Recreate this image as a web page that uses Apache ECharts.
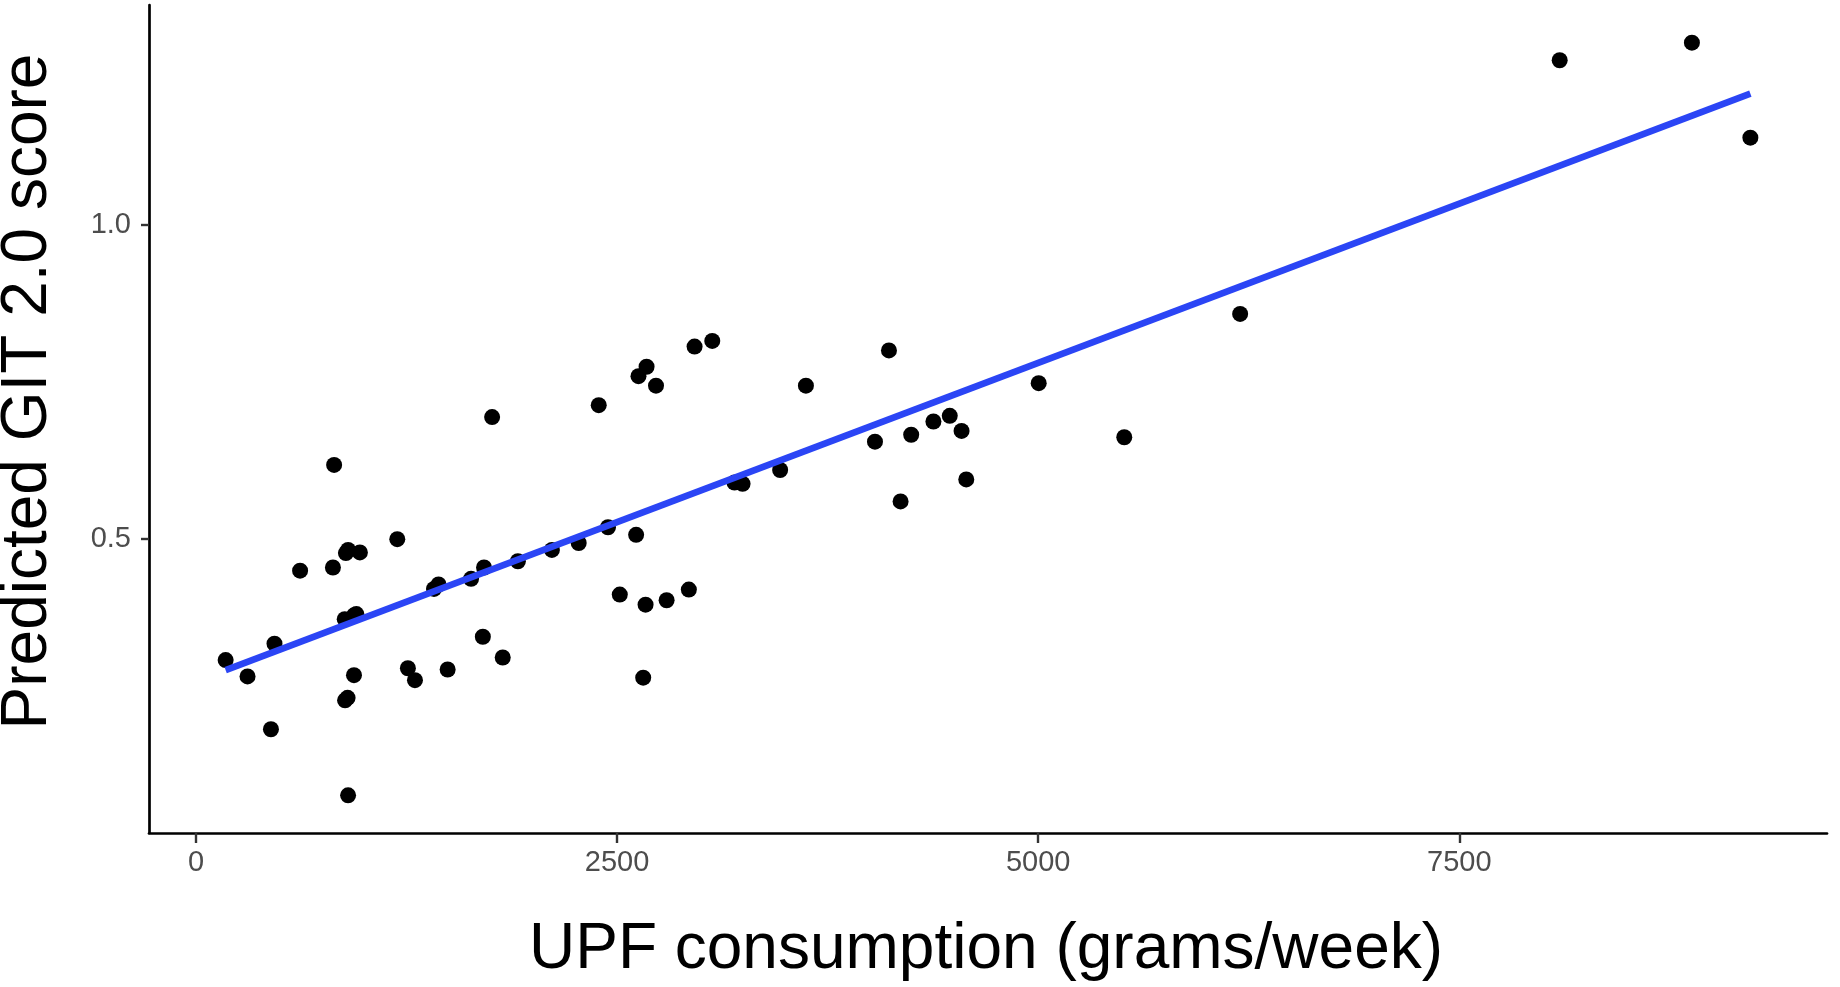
<!DOCTYPE html>
<html>
<head>
<meta charset="utf-8">
<style>
  html, body { margin: 0; padding: 0; background: #ffffff; }
  #chart { width: 1840px; height: 987px; }
</style>
<script src="https://cdn.jsdelivr.net/npm/echarts@6/dist/echarts.min.js"></script>
</head>
<body>
<div id="chart"></div>
<script>
// UPF consumption (grams/week)
const upfGrams = [
  176, 306, 466, 445, 618, 820, 813, 890, 903, 973,
  883, 938, 952, 938, 885, 900, 903, 1195, 1258, 1300,
  1494, 1413, 1440, 1633, 1703, 1710, 1758, 1821, 1911, 2113,
  2272, 2391, 2446, 2516, 2613, 2627, 2675, 2731, 2669, 2655,
  2794, 2926, 2960, 3065, 3197, 3245, 3468, 3621, 4031, 4114,
  4183, 4246, 4378, 4475, 4545, 4573, 5003, 5511, 6199, 8096,
  8881, 9228
];
// Predicted GIT 2.0 score
const gitScore = [
  0.308, 0.282, 0.334, 0.198, 0.450, 0.618, 0.455, 0.478, 0.483, 0.479,
  0.373, 0.379, 0.381, 0.284, 0.244, 0.248, 0.093, 0.500, 0.295, 0.276,
  0.293, 0.421, 0.428, 0.437, 0.345, 0.455, 0.694, 0.312, 0.465, 0.483,
  0.494, 0.713, 0.519, 0.412, 0.507, 0.759, 0.774, 0.744, 0.396, 0.280,
  0.403, 0.420, 0.806, 0.815, 0.590, 0.588, 0.610, 0.744, 0.655, 0.800,
  0.560, 0.666, 0.687, 0.696, 0.672, 0.595, 0.748, 0.662, 0.858, 1.261,
  1.289, 1.138
];
// Fitted linear trend endpoints
const fitX = [176, 9228];
const fitY = [0.292, 1.208];
// Tick labels
const xTicks = [0, 2500, 5000, 7500];
const yTicks = [0.5, 1.0];
const xTitle = 'UPF consumption (grams/week)';
const yTitle = 'Predicted GIT 2.0 score';

const points = upfGrams.map((x, i) => [x, gitScore[i]]);
const fitLine = fitX.map((x, i) => [x, fitY[i]]);

const chart = echarts.init(document.getElementById('chart'));
const fontFamily = '"Liberation Sans", Arial, sans-serif';
chart.setOption({
  animation: false,
  backgroundColor: '#ffffff',
  grid: { left: 149, right: 13, top: 5, bottom: 154, containLabel: false },
  graphic: [
    {
      type: 'text',
      x: 28.5,
      y: 391.5,
      rotation: Math.PI / 2,
      style: {
        text: yTitle,
        fontSize: 64,
        fontFamily: fontFamily,
        fill: '#000000',
        textAlign: 'center',
        textVerticalAlign: 'middle',
        align: 'center',
        verticalAlign: 'middle'
      }
    },
    {
      type: 'text',
      x: 986,
      y: 950,
      style: {
        text: xTitle,
        fontSize: 64,
        fontFamily: fontFamily,
        fill: '#000000',
        textAlign: 'center',
        textVerticalAlign: 'middle',
        align: 'center',
        verticalAlign: 'middle'
      }
    }
  ],
  xAxis: {
    type: 'value',
    min: -279,
    max: 9683,
    axisLine: { show: true, onZero: false, lineStyle: { color: '#000000', width: 2.7 } },
    axisTick: { show: true, length: 10, customValues: xTicks, lineStyle: { color: '#333333', width: 2.4 } },
    axisLabel: { show: true, customValues: xTicks, margin: 15, fontSize: 29, color: '#4D4D4D', fontFamily: fontFamily,
      formatter: v => String(v) },
    splitLine: { show: false }
  },
  yAxis: {
    type: 'value',
    min: 0.0332,
    max: 1.3488,
    axisLine: { show: true, onZero: false, lineStyle: { color: '#000000', width: 2.7 } },
    axisTick: { show: true, length: 8, customValues: yTicks, lineStyle: { color: '#333333', width: 2.4 } },
    axisLabel: { show: true, customValues: yTicks, margin: 18, fontSize: 29, color: '#4D4D4D', fontFamily: fontFamily,
      formatter: v => v.toFixed(1) },
    splitLine: { show: false }
  },
  series: [
    {
      type: 'scatter',
      data: points,
      symbol: 'circle',
      symbolSize: 16,
      itemStyle: { color: '#000000', opacity: 1 },
      z: 2
    },
    {
      type: 'line',
      data: fitLine,
      showSymbol: false,
      symbol: 'none',
      lineStyle: { color: '#2B45F5', width: 6.5 },
      z: 3
    }
  ]
});
</script>
</body>
</html>
